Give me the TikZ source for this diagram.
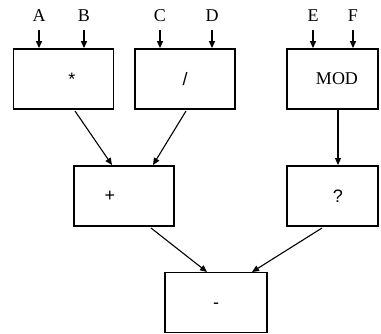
\documentclass[tikz,border=0pt]{standalone}
\usepackage{fontspec}
\setmainfont{Liberation Serif}
\newfontfamily\symfont{Liberation Sans}
\usetikzlibrary{arrows.meta}
\tikzset{
  opbox/.style={draw, line width=1.8pt, minimum width=100pt, minimum height=60pt, inner sep=0pt},
  flow/.style={line width=1.1pt, -{Triangle[length=7pt,width=6pt]}},
  varlabel/.style={font=\fontsize{18}{18}\selectfont, inner sep=0pt},
  symlabel/.style={font=\symfont\fontsize{18}{18}\selectfont, inner sep=0pt}
}
\begin{document}
\begin{tikzpicture}[x=1pt,y=-1pt]
\useasboundingbox (0,0) rectangle (381,333);
% operator boxes
\node[opbox] (mul) at (63.5,79) {};
\node[opbox] (div) at (185,79) {};
\node[opbox, minimum width=91pt] (mod) at (332.5,79) {};
\node[opbox] (add) at (124,196) {};
\node[opbox, minimum width=91pt] (qm) at (332.5,196) {};
\node[opbox, minimum width=102pt] (sub) at (216,302.5) {};
% operator symbols
\node[symlabel] (tmul) at (72,79) {*};
\node[symlabel] (tdiv) at (185,79) {/};
\node[varlabel] (tmod) at (337,79) {MOD};
\node[symlabel] (tadd) at (110,196) {+};
\node[symlabel] (tqm) at (338,196) {?};
\node[symlabel] (tsub) at (216,306) {-};
% inputs
\node[varlabel] (A) at (39,16) {A};
\node[varlabel] (B) at (84,16) {B};
\node[varlabel] (C) at (160,16) {C};
\node[varlabel] (D) at (212,16) {D};
\node[varlabel] (E) at (313,16) {E};
\node[varlabel] (F) at (353,16) {F};
\coordinate (a0) at (39,30);
\coordinate (b0) at (84,30);
\coordinate (c0) at (160,30);
\coordinate (d0) at (212,30);
\coordinate (e0) at (313,30);
\coordinate (f0) at (353,30);
\draw[flow] (a0) -- (mul.north -| a0);
\draw[flow] (b0) -- (mul.north -| b0);
\draw[flow] (c0) -- (div.north -| c0);
\draw[flow] (d0) -- (div.north -| d0);
\draw[flow] (e0) -- (mod.north -| e0);
\draw[flow] (f0) -- (mod.north -| f0);
% data flow between boxes
\coordinate (m1) at (75,111);
\coordinate (m2) at (112,165);
\coordinate (d1) at (186,111);
\coordinate (d2) at (153,165);
\coordinate (o1) at (338,110);
\coordinate (o2) at (338,165);
\coordinate (p1) at (151,228);
\coordinate (p2) at (207,272);
\coordinate (q1) at (322,228);
\coordinate (q2) at (252,272);
\draw[flow] (m1) -- (m2);
\draw[flow] (d1) -- (d2);
\draw[flow] (o1) -- (o2);
\draw[flow] (p1) -- (p2);
\draw[flow] (q1) -- (q2);
\end{tikzpicture}
\end{document}
